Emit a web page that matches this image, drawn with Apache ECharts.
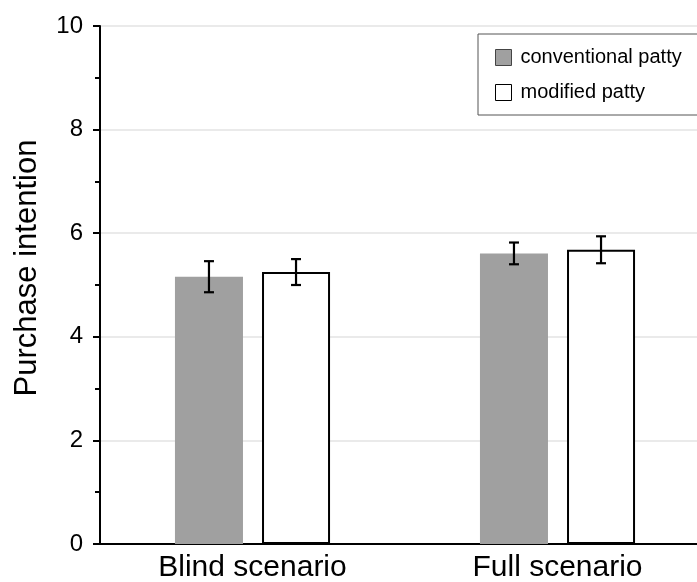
<!DOCTYPE html>
<html><head><meta charset="utf-8">
<script src="https://cdn.jsdelivr.net/npm/echarts@6/dist/echarts.min.js"></script>
<style>html,body{margin:0;padding:0;background:#fff}#c{width:697px;height:582px}</style>
</head><body><div id="c"></div>
<script>
const categories = ['Blind scenario', 'Full scenario'];
const seriesNames = ['conventional patty', 'modified patty'];
const conventional = [5.16, 5.61];
const conventionalErr = [0.30, 0.21];
const modified = [5.25, 5.68];
const modifiedErr = [0.25, 0.26];
const yTicks = [0, 2, 4, 6, 8, 10];

const FONT = 'Liberation Sans, Arial, sans-serif';
const BAR_FRAC = 0.223;   // bar width as fraction of band
const GAP_FRAC = 0.28;    // gap as fraction of bar width

function errSeries(vals, errs, sign) {
  return {
    type: 'custom',
    silent: true,
    z: 10,
    data: vals.map((v, i) => [i, v, errs[i]]),
    renderItem: function (params, api) {
      const band = api.size([1, 0])[0];
      const bw = band * BAR_FRAC;
      const off = sign * (bw * (1 + GAP_FRAC)) / 2;
      const c = api.coord([api.value(0), api.value(1)]);
      const hi = api.coord([api.value(0), api.value(1) + api.value(2)]);
      const lo = api.coord([api.value(0), api.value(1) - api.value(2)]);
      const x = c[0] + off;
      const cap = 5;
      const st = { stroke: '#000', lineWidth: 2.2 };
      return {
        type: 'group',
        children: [
          { type: 'line', shape: { x1: x, y1: hi[1], x2: x, y2: lo[1] }, style: st },
          { type: 'line', shape: { x1: x - cap, y1: hi[1], x2: x + cap, y2: hi[1] }, style: st },
          { type: 'line', shape: { x1: x - cap, y1: lo[1], x2: x + cap, y2: lo[1] }, style: st }
        ]
      };
    }
  };
}

const chart = echarts.init(document.getElementById('c'));
chart.setOption({
  animation: false,
  textStyle: { fontFamily: FONT },
  grid: { left: 100, width: 610, top: 26, height: 518, outerBoundsMode: 'none', containLabel: false },
  legend: {
    orient: 'vertical',
    left: 478, top: 34,
    padding: [13, 80, 12, 17],
    itemGap: 14,
    itemWidth: 16, itemHeight: 16,
    borderColor: '#555', borderWidth: 1,
    textStyle: { fontSize: 20, lineHeight: 21, color: '#000', fontFamily: FONT, padding: [0, 0, 0, 4] },
    data: [
      { name: seriesNames[0], icon: 'rect', itemStyle: { color: '#a0a0a0', borderColor: '#444', borderWidth: 1 } },
      { name: seriesNames[1], icon: 'rect', itemStyle: { color: '#fff', borderColor: '#000', borderWidth: 1 } }
    ]
  },
  xAxis: {
    type: 'category',
    data: categories,
    axisLine: { lineStyle: { color: '#000', width: 2 } },
    axisTick: { show: false },
    axisLabel: { fontSize: 30, color: '#000', margin: 9, fontFamily: FONT }
  },
  yAxis: {
    type: 'value',
    min: yTicks[0], max: yTicks[yTicks.length - 1], interval: 2,
    name: 'Purchase intention',
    nameLocation: 'middle',
    nameGap: 57,
    nameTextStyle: { fontSize: 31, color: '#000', fontFamily: FONT, padding: [0, 0, 0, 34] },
    axisLine: { show: true, lineStyle: { color: '#000', width: 2 } },
    axisTick: { show: true, length: 7, lineStyle: { color: '#000', width: 2 } },
    minorTick: { show: true, splitNumber: 2, length: 5, lineStyle: { color: '#000', width: 2 } },
    splitLine: { show: true, lineStyle: { color: '#e3e3e3', width: 1.5 } },
    axisLabel: { fontSize: 24, color: '#000', margin: 17, fontFamily: FONT }
  },
  series: [
    {
      name: seriesNames[0], type: 'bar', data: conventional,
      barWidth: (BAR_FRAC * 100) + '%', barGap: (GAP_FRAC * 100) + '%',
      itemStyle: { color: '#a0a0a0' }
    },
    {
      name: seriesNames[1], type: 'bar', data: modified,
      barWidth: (BAR_FRAC * 100) + '%', barGap: (GAP_FRAC * 100) + '%',
      itemStyle: { color: '#fff', borderColor: '#000', borderWidth: 2 }
    },
    errSeries(conventional, conventionalErr, -1),
    errSeries(modified, modifiedErr, 1)
  ]
});
</script></body></html>
